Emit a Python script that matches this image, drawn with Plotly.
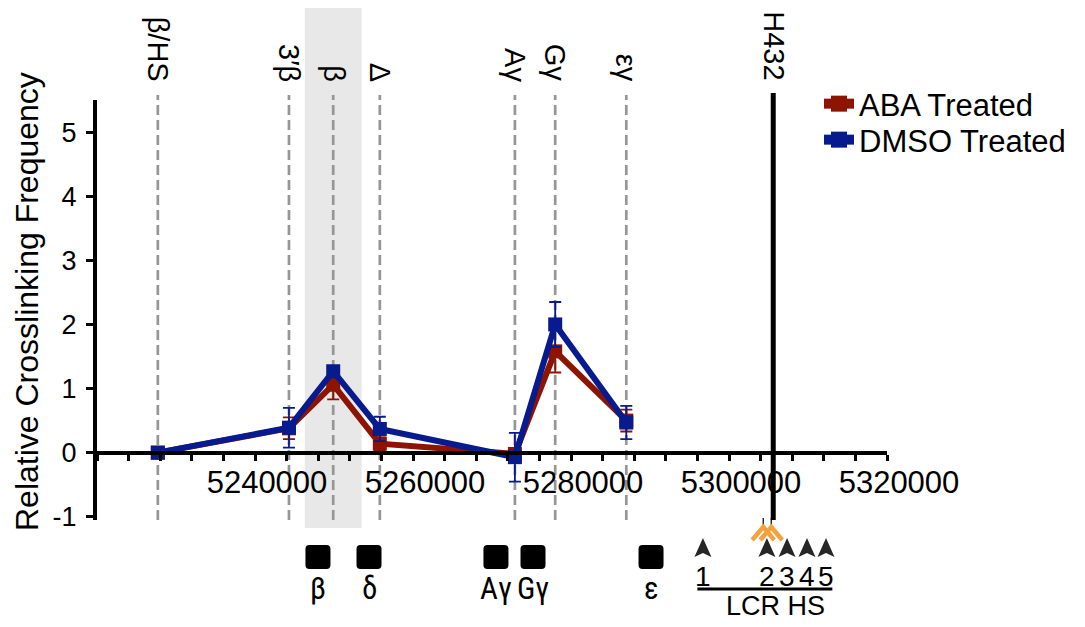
import plotly.graph_objects as go

# ---------------- data ----------------
site_labels = ["β/HS", "3′β", "β", "Δ", "Aγ", "Gγ", "εγ"]
site_positions = [5227700, 5244300, 5249900, 5255800, 5272900, 5278000, 5287000]

aba_values = [0.0, 0.38, 1.06, 0.14, -0.02, 1.58, 0.50]
aba_errors = [0.0, 0.17, 0.23, 0.10, 0.05, 0.33, 0.17]
dmso_values = [0.0, 0.39, 1.27, 0.37, -0.07, 2.00, 0.47]
dmso_errors = [0.0, 0.31, 0.05, 0.19, 0.38, 0.35, 0.26]

anchor_label = "H432"
anchor_position = 5305600

shaded_region = [5246300, 5253500]

gene_labels = ["β", "δ", "Aγ", "Gγ", "ε"]
gene_positions = [5247970, 5254430, 5270500, 5275190, 5290130]

lcr_labels = ["1", "2", "3", "4", "5"]
lcr_positions = [5296700, 5304800, 5307350, 5309870, 5312280]
lcr_title = "LCR HS"

x_range = [5220000, 5320000]
x_tick_values = [5220000, 5240000, 5260000, 5280000, 5300000, 5320000]
x_tick_text = ["", "5240000", "5260000", "5280000", "5300000", "5320000"]
y_range = [-1.05, 5.5]
y_tick_values = [-1, 0, 1, 2, 3, 4, 5]
y_tick_text = [str(v) for v in y_tick_values]

# ---------------- layout helpers ----------------
# page body has an 8px margin, so the figure starts at (8, 8) in the window
OFF = 8
WIN_W, WIN_H = 1085, 627
W, H = WIN_W - OFF, WIN_H - OFF
# plot area in window pixels
PL, PR, PT, PB = 97, 887, 100, 520
FONT = "Liberation Sans, Arial, Helvetica, sans-serif"
RED = "#8c1400"
BLUE = "#071b8e"
GRAY = "#969696"


def px_x(px):
    return (px - PL) / (PR - PL)


def px_y(py):
    return (PB - py) / (PB - PT)


fig = go.Figure()

series = [
    ("ABA Treated", aba_values, aba_errors, RED, "legend"),
    ("DMSO Treated", dmso_values, dmso_errors, BLUE, "legend2"),
]
for name, vals, errs, color, _ in series:
    fig.add_trace(go.Scatter(
        x=site_positions, y=vals, name=name, mode="lines+markers",
        line=dict(color=color, width=6),
        marker=dict(symbol="square", size=14, color=color),
        error_y=dict(type="data", array=errs, visible=True, color=color,
                     thickness=1.8, width=6),
        cliponaxis=False, showlegend=False,
    ))
# legend entries (thick line + square, as in the reference key)
for name, vals, errs, color, leg in series:
    fig.add_trace(go.Scatter(
        x=[None], y=[None], name=name, mode="lines+markers",
        line=dict(color=color, width=10),
        marker=dict(symbol="square", size=16, color=color),
        legend=leg, showlegend=True,
    ))

shapes = []
# shaded beta region
shapes.append(dict(type="rect", xref="x", yref="paper",
                   x0=shaded_region[0], x1=shaded_region[1],
                   y0=px_y(528), y1=px_y(0),
                   fillcolor="#e8e8e8", line=dict(width=0), layer="below"))
# dashed site lines
for xv in site_positions:
    shapes.append(dict(type="line", xref="x", yref="paper", x0=xv, x1=xv,
                       y0=px_y(520), y1=px_y(95),
                       line=dict(color=GRAY, width=2.7, dash="10px,5px"),
                       layer="below"))
# H432 anchor line
shapes.append(dict(type="line", xref="x", yref="paper",
                   x0=anchor_position, x1=anchor_position,
                   y0=px_y(520), y1=px_y(93),
                   line=dict(color="black", width=5)))
# small ticks + orange chevrons below the anchor
for off in (-10, -2):
    shapes.append(dict(type="path", xref="x", yref="paper",
                       xsizemode="pixel", ysizemode="pixel",
                       xanchor=anchor_position, yanchor=px_y(520),
                       path=f"M {off},2 L {off},-10",
                       line=dict(color="black", width=1.2)))
for off in (-10, -2):
    shapes.append(dict(type="path", xref="x", yref="paper",
                       xsizemode="pixel", ysizemode="pixel",
                       xanchor=anchor_position, yanchor=px_y(527),
                       path=f"M {off-11},-13 L {off},0 L {off+11},-13",
                       line=dict(color="#f5a23c", width=4.5)))
# gene boxes
box = ("M -8.5,12 L 8.5,12 Q 12.5,12 12.5,8 L 12.5,-8 Q 12.5,-12 8.5,-12 "
       "L -8.5,-12 Q -12.5,-12 -12.5,-8 L -12.5,8 Q -12.5,12 -8.5,12 Z")
for gx in gene_positions:
    shapes.append(dict(type="path", xref="x", yref="paper",
                       xsizemode="pixel", ysizemode="pixel",
                       xanchor=gx, yanchor=px_y(557), path=box,
                       fillcolor="black", line=dict(width=0)))
# LCR HS arrowheads
for lx in lcr_positions:
    shapes.append(dict(type="path", xref="x", yref="paper",
                       xsizemode="pixel", ysizemode="pixel",
                       xanchor=lx, yanchor=px_y(557),
                       path="M 0,19 L 8.5,0 L 0,4 L -8.5,0 Z",
                       fillcolor="#262626", line=dict(width=0)))
# LCR underline
shapes.append(dict(type="line", xref="x", yref="paper",
                   x0=lcr_positions[0] - 700, x1=lcr_positions[-1] + 800,
                   y0=px_y(589), y1=px_y(589),
                   line=dict(color="black", width=3)))

annotations = []
for lab, xv in zip(site_labels, site_positions):
    annotations.append(dict(x=xv, y=px_y(84), xref="x", yref="paper",
                            text=lab, textangle=90, showarrow=False,
                            xanchor="center", yanchor="bottom",
                            font=dict(family=FONT, size=29, color="black")))
annotations.append(dict(x=anchor_position, y=px_y(82), xref="x", yref="paper",
                        text=anchor_label, textangle=90, showarrow=False,
                        xanchor="center", yanchor="bottom",
                        font=dict(family=FONT, size=29, color="black")))
GENE_FONT = "Liberation Sans Narrow, Arial Narrow, Roboto Condensed, Roboto, sans-serif"
for lab, gx in zip(gene_labels, gene_positions):
    annotations.append(dict(x=gx, y=px_y(588), xref="x", yref="paper",
                            text=lab, showarrow=False, xanchor="center",
                            yanchor="middle",
                            font=dict(family=GENE_FONT, size=31, color="black")))
for lab, lx in zip(lcr_labels, lcr_positions):
    annotations.append(dict(x=lx, y=px_y(576), xref="x", yref="paper",
                            text=lab, showarrow=False, xanchor="center",
                            yanchor="middle",
                            font=dict(family=FONT, size=28, color="black")))
annotations.append(dict(x=(lcr_positions[0] + lcr_positions[-1]) / 2 + 1400,
                        y=px_y(606), xref="x", yref="paper", text=lcr_title,
                        showarrow=False, xanchor="center", yanchor="middle",
                        font=dict(family=FONT, size=27, color="black")))
annotations.append(dict(x=px_x(27), y=px_y(302), xref="paper", yref="paper",
                        text="Relative Crosslinking Frequency", textangle=-90,
                        showarrow=False, xanchor="center", yanchor="middle",
                        font=dict(family=FONT, size=32, color="black")))

x_axis_pos = (0 - y_range[0]) / (y_range[1] - y_range[0])

legend_style = dict(xanchor="left", yanchor="top",
                    font=dict(family=FONT, size=31, color="black"),
                    bgcolor="rgba(0,0,0,0)", borderwidth=0)

fig.update_layout(
    width=W, height=H,
    margin=dict(l=PL - OFF, r=WIN_W - PR, t=PT - OFF, b=WIN_H - PB, pad=0),
    paper_bgcolor="white", plot_bgcolor="rgba(0,0,0,0)",
    font=dict(family=FONT, color="black"),
    showlegend=True,
    legend=dict(x=px_x(819), y=px_y(77), **legend_style),
    legend2=dict(x=px_x(819), y=px_y(113), **legend_style),
    xaxis=dict(range=x_range, anchor="free", position=x_axis_pos,
               showline=True, linewidth=4, linecolor="black",
               showgrid=False, zeroline=False,
               ticks="outside", ticklen=6, tickwidth=3, tickcolor="black",
               tickvals=x_tick_values, ticktext=x_tick_text,
               tickfont=dict(family=FONT, size=31, color="black"),
               ticklabelshift=12, ticklabelstandoff=-5,
               minor=dict(dtick=4000, tick0=5220000, ticks="outside",
                          ticklen=6, tickwidth=3, tickcolor="black",
                          showgrid=False)),
    yaxis=dict(range=y_range, showline=True, linewidth=4, linecolor="black",
               showgrid=False, zeroline=False,
               ticks="outside", ticklen=7, tickwidth=3, tickcolor="black",
               tickvals=y_tick_values, ticktext=y_tick_text,
               tickfont=dict(family=FONT, size=27, color="black"),
               ticklabelstandoff=4),
    shapes=shapes,
    annotations=annotations,
)

fig.write_html("out.html")
